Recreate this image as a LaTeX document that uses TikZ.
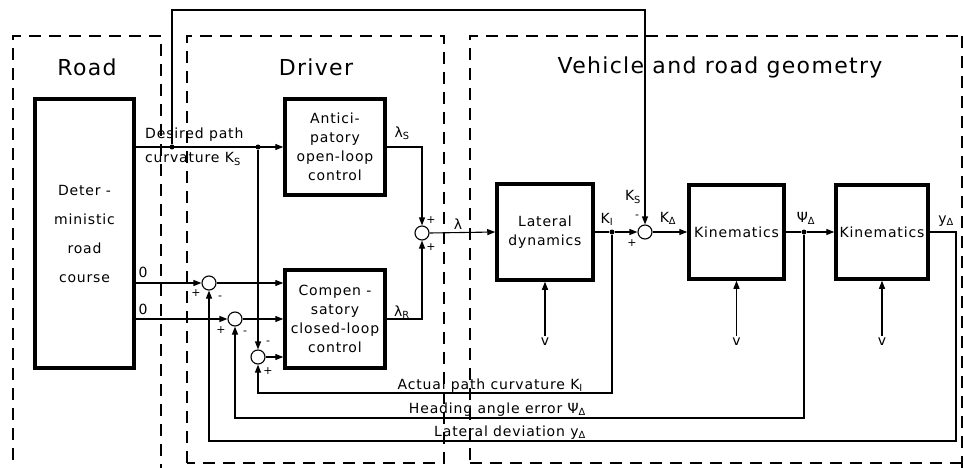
\documentclass[tikz,border=0pt]{standalone}
\usepackage{fontspec}
\setmainfont{DejaVu Sans}[LetterSpace=6]
\usetikzlibrary{arrows.meta}

\newcommand\lbl{\fontsize{14}{19}\selectfont}
\newcommand\ttl{\fontsize{22}{26}\selectfont}
\newcommand\sgn{\fontsize{11}{11}\selectfont}

\tikzset{
  blk/.style={draw,line width=3.5pt,align=center,font=\lbl,inner sep=0pt},
  zone/.style={draw,line width=1.1pt,dash pattern=on 12pt off 8pt},
  sumj/.style={draw,circle,line width=1.1pt,minimum size=14pt,inner sep=0pt},
  dot/.style={fill,circle,minimum size=5pt,inner sep=0pt},
  sig/.style={line width=1.1pt,-{Triangle[length=8pt,width=6pt]}},
  wire/.style={line width=1.1pt},
  txt/.style={font=\lbl,inner sep=0pt},
  sign/.style={font=\sgn,inner sep=0pt},
}

\begin{document}
\begin{tikzpicture}[x=1pt,y=-1pt]
\useasboundingbox (0,0) rectangle (964,468);
% dashed zones
\draw[zone] (13,480) -- (13,36) -- (161,36) -- (161,480);
\draw[zone] (187,463) -- (187,36) -- (444,36) -- (444,463) -- cycle;
\draw[zone] (470,480) -- (470,36) -- (970,36);
\draw[zone] (470,463) -- (970,463);
\draw[zone] (962,36) -- (962,470);
\node[font=\ttl,inner sep=0pt] (troad) at (87,67) {Road};
\node[font=\ttl,inner sep=0pt] (tdrv) at (316,67) {Driver};
\node[font=\ttl,inner sep=0pt] (tveh) at (720,67) {Vehicle and road geometry};

% blocks
\node[blk,minimum width=99,minimum height=269] (road) at (84.5,233.5)
  {Deter -\\[10pt]ministic\\[10pt]road\\[10pt]course};
\node[blk,minimum width=100,minimum height=96] (antic) at (335,147)
  {Antici-\\patory\\open-loop\\control};
\node[blk,minimum width=100,minimum height=98] (comp) at (335,319)
  {Compen -\\satory\\closed-loop\\control};
\node[blk,minimum width=96,minimum height=96] (lat) at (545,232)
  {Lateral\\dynamics};
\node[blk,minimum width=95,minimum height=94] (kin1) at (736.5,232) {Kinematics};
\node[blk,minimum width=92,minimum height=94] (kin2) at (882,232) {Kinematics};

% summing junctions and branch points
\node[sumj] (s1) at (209,283) {};
\node[sumj] (s2) at (235,319) {};
\node[sumj] (s3) at (258,357) {};
\node[sumj] (s4) at (422,233) {};
\node[sumj] (s5) at (645,232) {};
\node[dot] (d1) at (172,147) {};
\node[dot] (d2) at (258,147) {};
\node[dot] (d3) at (612,232) {};
\node[dot] (d4) at (804,232) {};
\coordinate (topL) at (172,10);
\coordinate (aR) at (612,393);
\coordinate (hR) at (804,418);
\coordinate (yR) at (956,441);

% signals
\draw[sig] (road.east |- antic.west) -- (antic.west);
\draw[sig] (d1) -- (topL) -| (s5.north);
\draw[sig] (d2) -- (s3.north);
\draw[sig] (road.east |- s1) -- (s1.west);
\draw[sig] (road.east |- s2) -- (s2.west);
\draw[sig] (s1.east) -- (comp.west |- s1);
\draw[sig] (s2.east) -- (comp.west |- s2);
\draw[sig] (s3.east) -- (comp.west |- s3);
\draw[sig] (antic.east) -| (s4.north);
\draw[sig] (comp.east) -| (s4.south);
\draw[sig] (s4.east) -- (lat.west);
\draw[wire] (lat.east) -- (d3);
\draw[sig] (d3) -- (s5.west);
\draw[sig] (s5.east) -- (kin1.west);
\draw[wire] (kin1.east) -- (d4);
\draw[sig] (d4) -- (kin2.west);
\draw[sig] (d3) -- (aR) -| (s3.south);
\draw[sig] (d4) -- (hR) -| (s2.south);
\draw[sig] (kin2.east) -| (yR) -| (s1.south);

% speed inputs
\foreach \b/\x in {lat/545,kin1/736.5,kin2/882}{
  \node[txt] (v\b) at (\x,342) {v};
  \draw[sig] (v\b.north) ++(0,-2) -- (\b.south);
}

% signal labels
\node[txt,align=left,anchor=west] (ldes) at (145,135) {Desired path};
\node[txt,anchor=west] (lcurv) at (145,159) {curvature K\textsubscript{S}};
\node[txt] (l0a) at (143,272) {0};
\node[txt] (l0b) at (143,309) {0};
\node[txt] (llS) at (402,133) {λ\textsubscript{S}};
\node[txt] (llR) at (402,312) {λ\textsubscript{R}};
\node[txt] (ll) at (458,224) {λ};
\node[txt] (lKI) at (607,219) {K\textsubscript{I}};
\node[txt] (lKS) at (633,197) {K\textsubscript{S}};
\node[txt] (lKD) at (668,218) {K\textsubscript{Δ}};
\node[txt] (lPD) at (806,218) {Ψ\textsubscript{Δ}};
\node[txt] (lyD) at (946,221) {y\textsubscript{Δ}};
\node[txt,anchor=base east] (lact) at (583,389) {Actual path curvature K\textsubscript{I}};
\node[txt,anchor=base east] (lhead) at (586,413) {Heading angle error Ψ\textsubscript{Δ}};
\node[txt,anchor=base east] (llat) at (586,436) {Lateral deviation y\textsubscript{Δ}};

% signs
\node[sign] (g1a) at (196,293) {+};
\node[sign] (g1b) at (220,298) {-};
\node[sign] (g2a) at (221,330) {+};
\node[sign] (g2b) at (245,333) {-};
\node[sign] (g3a) at (268,343) {-};
\node[sign] (g3b) at (268,371) {+};
\node[sign] (g4a) at (431,220) {+};
\node[sign] (g4b) at (431,247) {+};
\node[sign] (g5a) at (637,217) {-};
\node[sign] (g5b) at (632,243) {+};
\end{tikzpicture}
\end{document}
